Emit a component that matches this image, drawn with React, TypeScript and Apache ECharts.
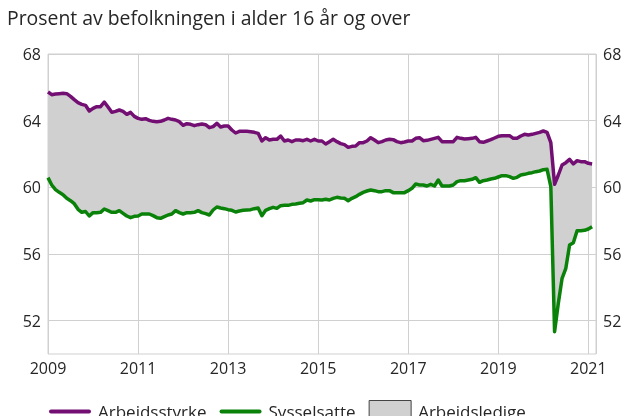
import { useEffect, useRef } from 'react';
import * as echarts from 'echarts';

const title = 'Prosent av befolkningen i alder 16 år og over';
const startYear = 2009;
const xMax = 2021.17;
const yLabelValues = [52, 56, 60, 64, 68];

// Monthly, Jan 2009 – Feb 2021
const arbeidsstyrke = [
  65.72, 65.56, 65.6, 65.62, 65.64, 65.62, 65.46, 65.26, 65.08, 64.98, 64.92, 64.58,
  64.74, 64.84, 64.84, 65.12, 64.82, 64.5, 64.56, 64.64, 64.56, 64.38, 64.5, 64.26,
  64.14, 64.08, 64.12, 64.02, 63.96, 63.94, 63.96, 64.04, 64.14, 64.08, 64.04, 63.94,
  63.72, 63.82, 63.78, 63.7, 63.76, 63.8, 63.76, 63.58, 63.64, 63.84, 63.62, 63.68,
  63.68, 63.44, 63.26, 63.36, 63.36, 63.36, 63.34, 63.3, 63.24, 62.78, 62.98, 62.84,
  62.88, 62.88, 63.08, 62.78, 62.84, 62.74, 62.84, 62.84, 62.8, 62.88, 62.78, 62.88,
  62.78, 62.78, 62.6, 62.74, 62.88, 62.74, 62.62, 62.56, 62.4, 62.46, 62.48, 62.68,
  62.68, 62.78, 62.98, 62.84, 62.68, 62.74, 62.84, 62.88, 62.86, 62.74, 62.68, 62.72,
  62.78, 62.78, 62.94, 62.98, 62.8, 62.82, 62.88, 62.94, 63.0, 62.74, 62.74, 62.74,
  62.74, 63.0, 62.94, 62.9, 62.92, 62.94, 63.0, 62.74, 62.7, 62.78, 62.86, 62.96,
  63.06, 63.1, 63.1, 63.1, 62.94, 62.94, 63.08, 63.18, 63.14, 63.18, 63.24, 63.3,
  63.38, 63.3, 62.68, 60.18, 60.74, 61.34, 61.48, 61.68, 61.4, 61.6, 61.54, 61.54,
  61.44, 61.4,
];

const sysselsatte = [
  60.58, 60.14, 59.86, 59.7, 59.56, 59.34, 59.2, 59.02, 58.68, 58.5, 58.55, 58.28,
  58.48, 58.48, 58.5, 58.7, 58.6, 58.5, 58.5, 58.6, 58.44, 58.28, 58.18, 58.26,
  58.28, 58.4, 58.4, 58.4, 58.3, 58.18, 58.14, 58.24, 58.34, 58.4, 58.6, 58.48,
  58.4, 58.48, 58.48, 58.5, 58.6, 58.48, 58.42, 58.34, 58.64, 58.82, 58.76, 58.72,
  58.66, 58.62, 58.52, 58.58, 58.62, 58.64, 58.66, 58.72, 58.76, 58.3, 58.62, 58.72,
  58.8, 58.74, 58.9, 58.92, 58.92, 58.98, 59.0, 59.04, 59.08, 59.24, 59.18, 59.26,
  59.26, 59.24, 59.28, 59.24, 59.34, 59.4, 59.36, 59.34, 59.2, 59.34, 59.44, 59.58,
  59.7, 59.78, 59.84, 59.8, 59.74, 59.74, 59.8, 59.8, 59.68, 59.68, 59.68, 59.68,
  59.8, 59.94, 60.2, 60.14, 60.14, 60.08, 60.18, 60.08, 60.44, 60.08, 60.08, 60.08,
  60.14, 60.34, 60.4, 60.4, 60.44, 60.48, 60.58, 60.3, 60.4, 60.44, 60.5, 60.54,
  60.62, 60.7, 60.7, 60.64, 60.54, 60.6, 60.74, 60.78, 60.84, 60.88, 60.94, 60.98,
  61.06, 61.08, 60.04, 51.34, 53.04, 54.54, 55.14, 56.54, 56.68, 57.4, 57.4, 57.42,
  57.5, 57.64,
];

const PURPLE = '#730f73';
const GREEN = '#0a820a';
const GREY = '#d0d0d0';
const GRID = '#d0d0d0';
const TEXT = '#262626';
const FONT = "'Open Sans', sans-serif";

export default function App() {
  const ref = useRef<HTMLDivElement>(null);

  useEffect(() => {
    const chart = echarts.init(ref.current!, null, { renderer: 'svg' });
    const months = arbeidsstyrke.map((_, i) => startYear + i / 12);
    const purple = arbeidsstyrke.map((v, i) => [months[i], v]);
    const green = sysselsatte.map((v, i) => [months[i], v]);

    const yAxisCommon = {
      type: 'value',
      min: 50,
      max: 68,
      interval: 2,
      axisLine: { show: false },
      axisTick: { show: false },
      axisLabel: {
        fontSize: 16,
        color: TEXT,
        fontFamily: FONT,
        margin: 7,
        formatter: (v: number) => (yLabelValues.includes(Math.round(v)) ? String(Math.round(v)) : ''),
      },
    };

    chart.setOption({
      animation: false,
      textStyle: { fontFamily: FONT },
      title: {
        text: title,
        left: 7,
        top: 8,
        padding: 0,
        textStyle: { fontSize: 19.4, fontWeight: 'normal', color: TEXT, fontFamily: FONT },
      },
      grid: {
        left: 48,
        right: 32,
        top: 54,
        bottom: 62,
        show: true,
        borderColor: GRID,
        borderWidth: 1,
        backgroundColor: 'transparent',
      },
      legend: {
        left: 49,
        top: 400,
        padding: 0,
        itemGap: 13,
        itemWidth: 42,
        itemHeight: 22,
        itemStyle: { borderWidth: 0 },
        textStyle: { fontSize: 17, color: TEXT, fontFamily: FONT, padding: [0, 0, 0, 2] },
        data: [
          { name: 'Arbeidsstyrke', icon: 'path://M2,0H40A2,2 0 0 1 40,4H2A2,2 0 0 1 2,0Z' },
          { name: 'Sysselsatte', icon: 'path://M2,0H40A2,2 0 0 1 40,4H2A2,2 0 0 1 2,0Z' },
          {
            name: 'Arbeidsledige',
            icon: 'rect',
            itemStyle: { color: GREY, borderColor: '#444', borderWidth: 1 },
          },
        ],
      },
      xAxis: {
        type: 'value',
        min: startYear,
        max: xMax,
        interval: 2,
        axisLine: { show: false },
        axisTick: { show: false },
        splitLine: { show: true, lineStyle: { color: GRID, width: 1 } },
        axisLabel: {
          fontSize: 16,
          color: TEXT,
          fontFamily: FONT,
          margin: 6,
          formatter: (v: number) => (Number.isInteger(v) ? String(v) : ''),
        },
      },
      yAxis: [
        {
          ...yAxisCommon,
          position: 'left',
          splitLine: {
            show: true,
            lineStyle: { color: ['rgba(0,0,0,0)', GRID], width: 1 },
          },
        },
        {
          ...yAxisCommon,
          position: 'right',
          splitLine: { show: false },
        },
      ],
      series: [
        {
          name: 'Arbeidsledige',
          type: 'custom',
          data: purple,
          encode: { x: 0, y: 1 },
          silent: true,
          itemStyle: { color: GREY },
          z: 1,
          renderItem: (params: any, api: any) => {
            if (params.dataIndex !== 0) return null;
            const top = arbeidsstyrke.map((v, i) => api.coord([months[i], v]));
            const bottom = sysselsatte
              .map((v, i) => api.coord([months[i], v]))
              .reverse();
            return {
              type: 'polygon',
              shape: { points: top.concat(bottom) },
              style: { fill: GREY, stroke: 'none' },
            };
          },
        },
        {
          name: 'Arbeidsstyrke',
          type: 'line',
          data: purple,
          showSymbol: false,
          symbol: 'none',
          lineStyle: { color: PURPLE, width: 3.5, join: 'round' },
          itemStyle: { color: PURPLE, borderWidth: 0 },
          z: 3,
        },
        {
          name: 'Sysselsatte',
          type: 'line',
          data: green,
          showSymbol: false,
          symbol: 'none',
          lineStyle: { color: GREEN, width: 3.5, join: 'round' },
          itemStyle: { color: GREEN, borderWidth: 0 },
          z: 3,
        },
      ],
    });

    return () => chart.dispose();
  }, []);

  return (
    <div
      ref={ref}
      style={{ position: 'fixed', left: 0, top: 0, width: 628, height: 416 }}
    />
  );
}
